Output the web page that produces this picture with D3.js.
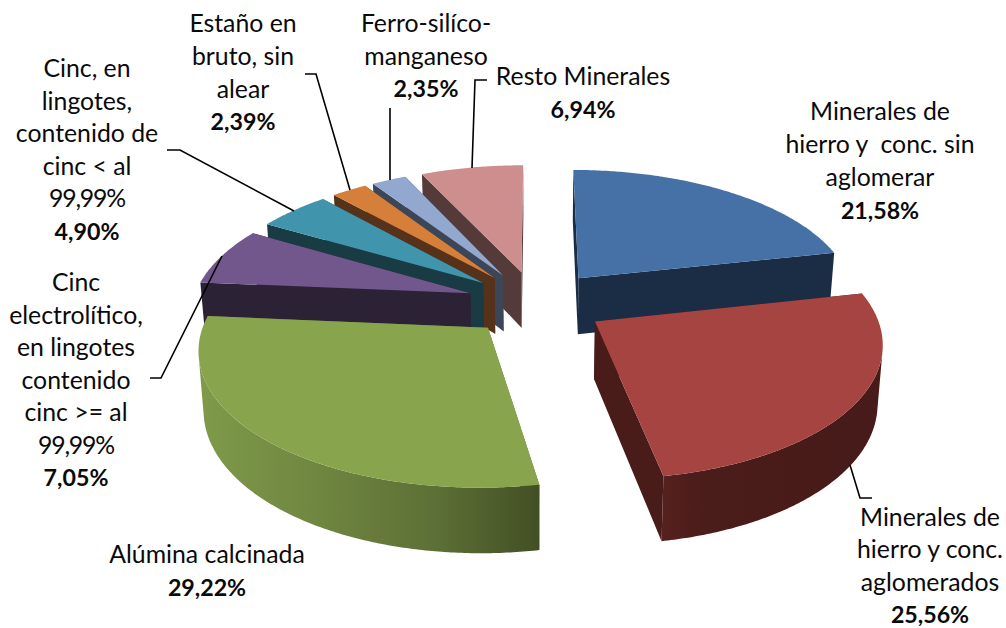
<!DOCTYPE html>
<html><head><meta charset="utf-8">
<script src="https://d3js.org/d3.v7.min.js"></script>
<style>html,body{margin:0;padding:0;background:#fff}svg{display:block}
text{font-family:Lato,"Open Sans",sans-serif;font-size:24.8px;fill:#0a0a0a}</style>
</head><body><svg id="c" width="1006" height="628"></svg>
<script>
const categories=["Minerales de hierro y conc. sin aglomerar","Minerales de hierro y conc. aglomerados","Alúmina calcinada","Cinc electrolítico, en lingotes contenido cinc >= al 99,99%","Cinc, en lingotes, contenido de cinc < al 99,99%","Estaño en bruto, sin alear","Ferro-silíco-manganeso","Resto Minerales"];
const values=[21.58,25.56,29.22,7.05,4.90,2.39,2.35,6.94];
const valueLabels=["21,58%","25,56%","29,22%","7,05%","4,90%","2,39%","2,35%","6,94%"];
const labelLines=[["Minerales de","hierro y  conc. sin","aglomerar"],["Minerales de","hierro y conc.","aglomerados"],["Alúmina calcinada"],["Cinc","electrolítico,","en lingotes","contenido","cinc >= al","99,99%"],["Cinc, en","lingotes,","contenido de","cinc < al","99,99%"],["Estaño en","bruto, sin","alear"],["Ferro-silíco-","manganeso"],["Resto Minerales"]];
const topColors=["#4571A6","#A64442","#88A44D","#71578C","#4095AD","#D67F3B","#92A8CE","#CE8E8D"];
const wallColors=["#1B2D45","#491C1A","#5f7337","#2C2236","#193B44","#57321A","#3B4659","#553A3A"];
// layout
const drawOrder=[7,6,5,4,3,0,2,1];
const labelX=[880,930,207,76,87,243,426,583];
const labelY=[120,526,563,291,77,32,32,85];
const lineH=[33,32.4,33,32.5,32.6,32.8,32.5,33];
const leaders=[null,[[850,465],[860,498],[872,498]],null,[[222,256],[161,378],[150,378]],[[294,211],[180,150],[167,150]],[[350,190],[316,74],[305,74]],[[390,180],[390,108]],[[472,168],[475,80],[487,80]]];

const vx=536,vy=303,rx=278,ry=130,p=0.14,e=0.25,depth=57,k=0.985;
function project(wx,wy,bottom){
  const s=1/(1-p*wy), f=bottom?k:1;
  return [vx+wx*rx*s*f, vy+wy*ry*s*f+(bottom?depth*s:0)];
}
const svg=d3.select("#c");
const defs=svg.append("defs");
const g1=defs.append("linearGradient").attr("id","gGreen").attr("gradientUnits","userSpaceOnUse").attr("x1",200).attr("x2",540).attr("y1",0).attr("y2",0);
[[0,"#7F9A49"],[.35,"#6F8640"],[.7,"#5C6F35"],[1,"#424F24"]].forEach(d=>g1.append("stop").attr("offset",d[0]).attr("stop-color",d[1]));
const g2=defs.append("linearGradient").attr("id","gRed").attr("gradientUnits","userSpaceOnUse").attr("x1",662).attr("x2",880).attr("y1",0).attr("y2",0);
[[0,"#56211F"],[.2,"#4A1C1A"],[1,"#471B19"]].forEach(d=>g2.append("stop").attr("offset",d[0]).attr("stop-color",d[1]));

const arcs=d3.pie().sort(null).value(d=>d).startAngle(0).endAngle(2*Math.PI)(values);
const line=d3.line();
drawOrder.forEach(i=>{
  const a=arcs[i], mid=(a.startAngle+a.endAngle)/2;
  const ax=e*Math.sin(mid), ay=-e*Math.cos(mid);
  const n=Math.max(6,Math.ceil((a.endAngle-a.startAngle)*100));
  const ang=d3.range(n+1).map(j=>a.startAngle+(a.endAngle-a.startAngle)*j/n);
  const pt=(t,b)=>project(ax+Math.sin(t),ay-Math.cos(t),b);
  const apexT=project(ax,ay,false), apexB=project(ax,ay,true);
  const g=svg.append("g").attr("class","slice");
  const wall=wallColors[i];
  const wallFill=i===2?"url(#gGreen)":i===1?"url(#gRed)":wall;
  g.append("path").attr("d",line([apexT,pt(a.startAngle,false),pt(a.startAngle,true),apexB])+"Z").attr("fill",wall);
  g.append("path").attr("d",line([apexT,pt(a.endAngle,false),pt(a.endAngle,true),apexB])+"Z").attr("fill",wall);
  // only the part of the rim that faces the viewer, so its end edges form the silhouette
  const front=ang.filter((t,j)=>{
    const t2=j<n?ang[j+1]:t, t1=j<n?t:ang[j-1];
    const A=pt(t1,false),B=pt(t2,false),C=pt(t1,true);
    return (B[0]-A[0])*(C[1]-A[1])-(B[1]-A[1])*(C[0]-A[0])<0;
  });
  if(front.length>1){
    const outer=front.map(t=>pt(t,false)).concat(front.slice().reverse().map(t=>pt(t,true)));
    g.append("path").attr("d",line(outer)+"Z").attr("fill",wallFill);
  }
  g.append("path").attr("d",line([apexT].concat(ang.map(t=>pt(t,false))))+"Z").attr("fill",topColors[i]);
});
leaders.forEach(l=>{ if(l) svg.append("path").attr("d",line(l)).attr("fill","none").attr("stroke","#000").attr("stroke-width",1.6);});
categories.forEach((c,i)=>{
  const t=svg.append("text").attr("text-anchor","middle").attr("xml:space","preserve").style("white-space","pre");
  const lines=labelLines[i];
  lines.forEach((s,j)=>t.append("tspan").attr("x",labelX[i]).attr("y",labelY[i]+j*lineH[i]).style("letter-spacing",/^\d/.test(s)?"-1.2px":null).text(s));
  t.append("tspan").attr("x",labelX[i]).attr("y",labelY[i]+lines.length*lineH[i]).attr("font-weight","700").style("font-size","23.2px").text(valueLabels[i]);
});
</script></body></html>
